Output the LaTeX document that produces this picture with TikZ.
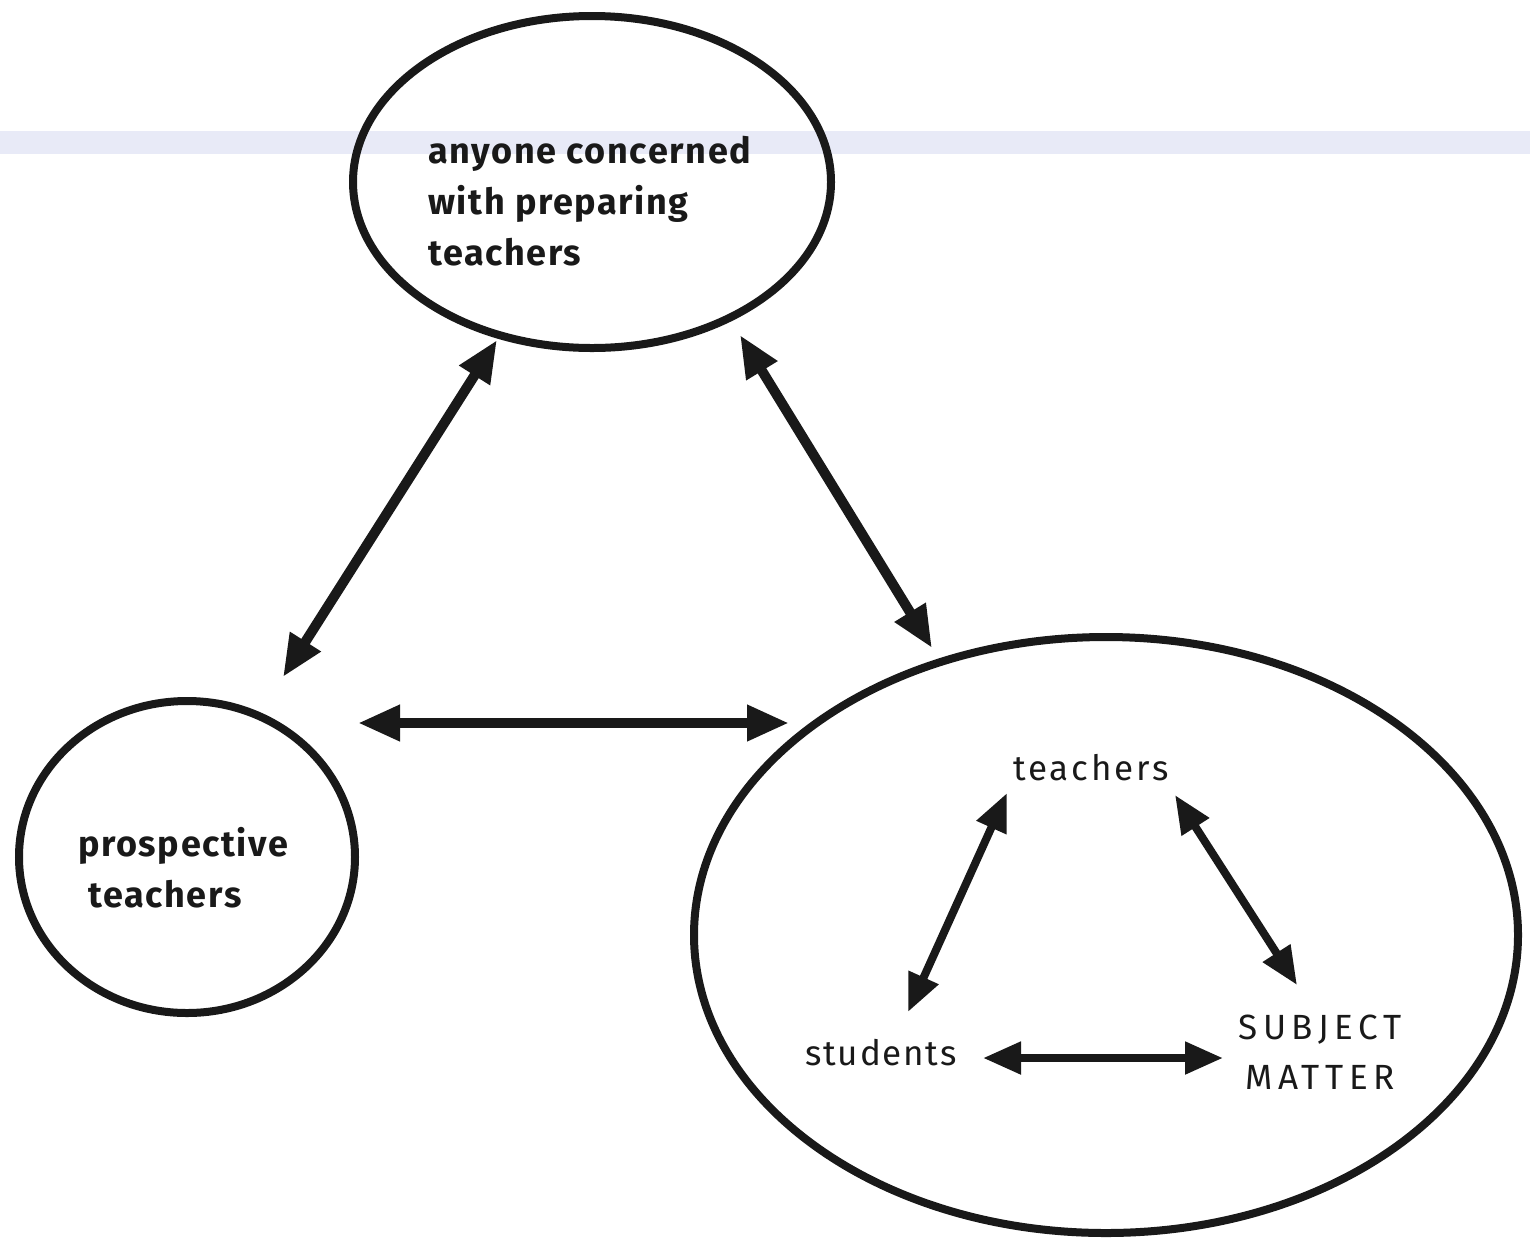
\documentclass[tikz,border=0pt]{standalone}
\usepackage{fontspec}
\setmainfont{Fira Sans}
\usetikzlibrary{shapes.geometric,arrows.meta}
\definecolor{band}{RGB}{232,234,247}
\definecolor{ink}{RGB}{25,25,25}
\tikzset{
  bubble/.style={draw=ink, ellipse, line width=8pt, inner sep=0pt},
  boldlabel/.style={inner sep=0pt, align=left, text=ink, font=\fontsize{36}{51}\selectfont\bfseries\addfontfeatures{LetterSpace=4.5}},
  innerlabel/.style={inner sep=0pt, align=center, text=ink, font=\fontsize{35}{50}\selectfont},
  bigarrow/.style={draw=ink, line width=10pt, {Triangle[length=42pt,width=34pt]}-{Triangle[length=42pt,width=34pt]}},
  smallarrow/.style={draw=ink, line width=8pt, {Triangle[length=38pt,width=31pt]}-{Triangle[length=38pt,width=31pt]}}
}
\begin{document}
\begin{tikzpicture}[x=1pt,y=1pt]
\useasboundingbox (0,0) rectangle (1530,-1243);
\fill[white] (0,0) rectangle (1530,-1243);
\fill[band] (0,-131) rectangle (1530,-154);
% bubbles
\node[bubble, minimum width=478pt, minimum height=332pt] (top) at (592,-182) {};
\node[bubble, minimum width=336pt, minimum height=312pt] (prosp) at (187,-857) {};
\node[bubble, minimum width=824pt, minimum height=596pt] (big) at (1106,-935) {};
% labels
\node[boldlabel, anchor=west] (toptext) at (428,-201) {anyone concerned\\with preparing\\teachers};
\node[boldlabel, anchor=west] (prosptext) at (78,-868) {prospective\\\ teachers};
\node[innerlabel, font=\fontsize{35}{50}\selectfont\addfontfeatures{LetterSpace=8}] (teach) at (1091,-768) {teachers};
\node[innerlabel, font=\fontsize{35}{50}\selectfont\addfontfeatures{LetterSpace=5}] (stud) at (881,-1053) {students};
\node[innerlabel, font=\fontsize{35}{50}\selectfont\addfontfeatures{LetterSpace=16}] (subj) at (1320,-1052) {SUBJECT\\MATTER};
% outer connectors
\draw[bigarrow] ([shift={(-95,-158)}]top.center) -- ([shift={(96,180)}]prosp.center);
\draw[bigarrow] ([shift={(148,-153)}]top.center) -- ([shift={(-174,287)}]big.center);
\draw[bigarrow] ([shift={(171,134)}]prosp.center) -- ([shift={(-317,212)}]big.center);
% inner connectors
\draw[smallarrow] ([shift={(-84,-25)}]teach.center) -- ([shift={(27,41)}]stud.center);
\draw[smallarrow] ([shift={(84,-27)}]teach.center) -- ([shift={(-23,67)}]subj.center);
\draw[smallarrow] ([shift={(102,-5)}]stud.center) -- ([shift={(-97,-6)}]subj.center);
\end{tikzpicture}
\end{document}
